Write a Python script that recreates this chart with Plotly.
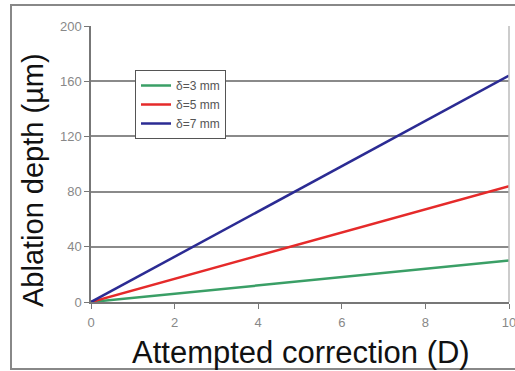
import plotly.graph_objects as go

correction_D = [0, 1, 2, 3, 4, 5, 6, 7, 8, 9, 10]
depth_3mm = [0, 3.0, 6.0, 9.0, 12.0, 15.0, 18.0, 21.0, 24.0, 27.0, 30.0]
depth_5mm = [0, 8.4, 16.8, 25.2, 33.6, 42.0, 50.4, 58.8, 67.2, 75.6, 84.0]
depth_7mm = [0, 16.4, 32.8, 49.2, 65.6, 82.0, 98.4, 114.8, 131.2, 147.6, 164.0]
series_names = ["δ=3 mm", "δ=5 mm", "δ=7 mm"]
series_colors = ["#3a9f66", "#e52a2a", "#2b2b93"]
x_ticks = [0, 2, 4, 6, 8, 10]
y_ticks = [0, 40, 80, 120, 160, 200]

fig = go.Figure()
for name, ys, col in zip(series_names, [depth_3mm, depth_5mm, depth_7mm], series_colors):
    fig.add_trace(go.Scatter(x=correction_D, y=ys, mode="lines", name=name,
                             line=dict(color=col, width=2.5)))

W, H = 515, 371
L, R, T, B = 91, 6, 26, 69
pw, ph = W - L - R, H - T - B

def px(xp):
    return (xp - L) / pw

def py(yp):
    return (H - B - yp) / ph

fig.update_layout(
    width=W, height=H, autosize=False,
    margin=dict(l=L, r=R, t=T, b=B, autoexpand=False),
    paper_bgcolor="white", plot_bgcolor="white",
    font=dict(family="Liberation Sans, Arial, sans-serif", color="#666666", size=12),
    showlegend=True,
    legend=dict(x=px(135), y=py(70), xanchor="left", yanchor="top",
                bgcolor="white", bordercolor="#555555", borderwidth=1,
                font=dict(size=12, color="#555555"),
                tracegroupgap=0, itemwidth=30),
    xaxis=dict(range=[0, 10], tickvals=x_ticks, showgrid=False, zeroline=False,
               showline=True, linecolor="#777777", linewidth=1.5,
               ticks="outside", ticklen=5, tickcolor="#777777",
               ticklabeloverflow="allow", automargin=False, ticklabelstandoff=3,
               tickfont=dict(size=13, color="#888888")),
    yaxis=dict(range=[0, 200], tickvals=y_ticks, showgrid=True, gridcolor="#8a8a8a",
               gridwidth=1.5, zeroline=False, automargin=False,
               showline=True, linecolor="#777777", linewidth=1.5,
               ticks="outside", ticklen=5, tickcolor="#777777",
               tickfont=dict(size=13, color="#888888")),
    annotations=[
        dict(text="Ablation depth (µm)", xref="paper", yref="paper",
             x=px(33), y=py(180), xanchor="center", yanchor="middle",
             textangle=-90, showarrow=False,
             font=dict(size=29, color="#111111")),
        dict(text="Attempted correction (D)", xref="paper", yref="paper",
             x=px(301), y=py(352), xanchor="center", yanchor="middle",
             showarrow=False, font=dict(size=31, color="#111111")),
    ],
    shapes=[
        dict(type="line", xref="paper", yref="paper", x0=1, x1=1, y0=0, y1=1,
             line=dict(color="#bbbbbb", width=1.5)),
        dict(type="rect", xref="paper", yref="paper",
             x0=px(11), x1=px(518), y0=py(369), y1=py(5),
             line=dict(color="#888888", width=2)),
    ],
)

fig.write_html("out.html",
               config={"responsive": False, "displayModeBar": False},
               post_script="document.body.style.margin='0';document.body.style.overflow='hidden';")
